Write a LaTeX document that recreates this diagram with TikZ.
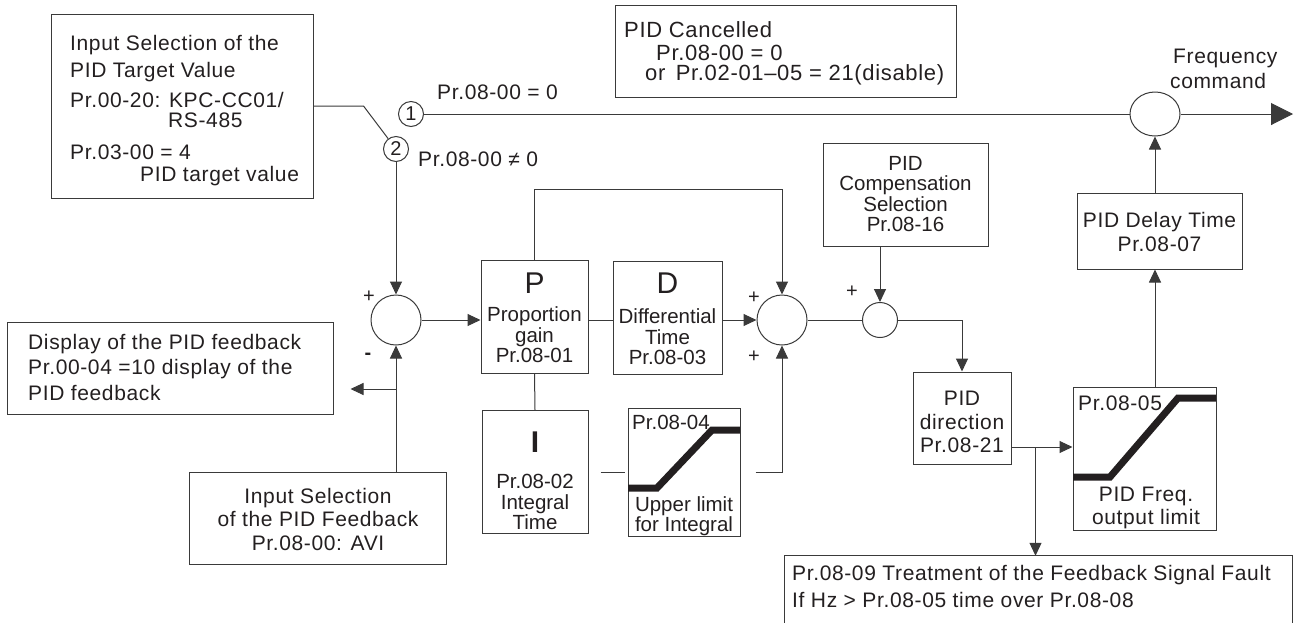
\documentclass[tikz,border=0pt]{standalone}
\usepackage{fontspec}
\setmainfont{Liberation Sans}
\newfontfamily\spaced[LetterSpace=3]{Liberation Sans}
\usetikzlibrary{arrows.meta,shapes.geometric}
\definecolor{ln}{HTML}{3A3A3A}
\definecolor{tx}{HTML}{231F20}
\begin{document}
\begin{tikzpicture}[x=1pt,y=-1pt,
  box/.style={draw=ln,line width=1pt,inner sep=0pt,rectangle},
  ta/.style={inner sep=0pt,text=tx,font=\spaced\fontsize{21}{23.5}\selectfont},
  tc/.style={inner sep=0pt,text=tx,font=\spaced\fontsize{22}{23}\selectfont},
  tb/.style={inner sep=0pt,text=tx,font=\fontsize{20.5}{20.5}\selectfont,align=center},
  big/.style={inner sep=0pt,text=tx,font=\fontsize{30}{30}\selectfont},
  sumnode/.style={draw=ln,line width=1pt,circle,inner sep=0pt,minimum size=50pt},
  numc/.style={draw=ln,line width=1pt,circle,inner sep=0pt,minimum size=25pt,text=tx,font=\fontsize{20}{20}\selectfont},
  con/.style={draw=ln,line width=1pt},
  arr/.style={con,-{Triangle[length=13pt,width=12pt]}},
  bigarr/.style={con,-{Triangle[length=22pt,width=22pt]}},
  ramp/.style={draw=tx,line width=7pt},
  sign/.style={inner sep=0pt,text=tx,font=\fontsize{20}{20}\selectfont}
]
\useasboundingbox (0,0) rectangle (1299,622);

% ---------- target value box
\node[box,minimum width=262pt,minimum height=184pt] (tgt) at (182,106) {};
\node[ta,anchor=west] (tgt1) at (70,45) {Input Selection of the};
\node[ta,anchor=west] (tgt2) at (70,72) {PID Target Value};
\node[ta,anchor=west] (tgt3) at (70,100) {Pr.00-20: KPC-CC01/};
\node[ta,anchor=west] (tgt4) at (168,120) {RS-485};
\node[ta,anchor=west] (tgt5) at (70,152) {Pr.03-00 = 4};
\node[ta,anchor=west] (tgt6) at (140,176) {PID target value};

% ---------- switch
\node[numc] (c1) at (411,114) {1};
\node[numc] (c2) at (396,149) {2};
\node[ta,anchor=west] (l1) at (437,92) {Pr.08-00 = 0};
\node[ta,anchor=west] (l2) at (418,159) {Pr.08-00 ≠ 0};

% ---------- PID cancelled
\node[box,minimum width=341pt,minimum height=92pt] (pc) at (785.5,51) {};
\node[tc,anchor=west] (pc1) at (624,30) {PID Cancelled};
\node[tc,anchor=west] (pc2) at (656,53) {Pr.08-00 = 0};
\node[tc,anchor=west] (pc3) at (645,75) {or\, Pr.02-01–05 = 21(disable)};

% ---------- output summing point
\node[draw=ln,line width=1pt,ellipse,inner sep=0pt,minimum width=50pt,minimum height=44pt] (s3) at (1155,114) {};
\node[ta,anchor=west] (fq1) at (1173,58) {Frequency};
\node[ta,anchor=west] (fq2) at (1170,81) {command};
\coordinate (out) at (1293,114);

% ---------- main loop
\node[sumnode] (s1) at (396,320) {};
\node[sign] (s1p) at (369,297) {+};
\node[sign] (s1m) at (368,356) {\textbf{-}};

\node[box,minimum width=107pt,minimum height=113pt] (P) at (534.5,316.5) {};
\node[big] (Pl) at (534.5,283) {P};
\node[tb] (Pt) at (534.5,335) {Proportion\\gain\\Pr.08-01};

\node[box,minimum width=109pt,minimum height=113pt] (D) at (667.5,317.5) {};
\node[big] (Dl) at (667.5,283) {D};
\node[tb] (Dt) at (667.5,337) {Differential\\Time\\Pr.08-03};

\node[sumnode] (s2) at (782,320) {};
\node[sign] (s2p) at (754,298) {+};
\node[sign] (s2q) at (754,357) {+};
\coordinate (top) at (782,189);

\node[box,minimum width=106pt,minimum height=123pt] (I) at (535,472) {};
\node[big] (Il) at (535,442) {\textbf{I}};
\node[tb] (It) at (535,502) {Pr.08-02\\Integral\\Time};

\node[box,minimum width=112pt,minimum height=128pt] (L1) at (684,472) {};
\node[tb,anchor=west] (L1a) at (632,422) {Pr.08-04};
\draw[ramp] (628,488) -- (657,488) -- (712,430) -- (740,430);
\node[tb] (L1t) at (684,516) {Upper limit\\for Integral};

% ---------- compensation
\node[box,minimum width=165pt,minimum height=103pt] (C) at (905.5,194.5) {};
\node[tb] (Ct) at (905.5,194) {PID\\Compensation\\Selection\\Pr.08-16};
\node[draw=ln,line width=1pt,circle,inner sep=0pt,minimum size=35pt] (sc) at (880,320) {};
\node[sign] (scp) at (852,292) {+};

\node[box,minimum width=98pt,minimum height=92pt] (Dr) at (962,418) {};
\node[ta,align=center] (Drt) at (962,422) {PID\\direction\\Pr.08-21};

\node[box,minimum width=143pt,minimum height=143pt] (L2) at (1144.5,458.5) {};
\node[ta,anchor=west] (L2a) at (1078,403) {Pr.08-05};
\draw[ramp] (1073,477) -- (1110,477) -- (1178,398) -- (1216,398);
\node[ta,align=center] (L2t) at (1146,508) {PID Freq.\\output limit};

\node[box,minimum width=165pt,minimum height=76pt] (Dly) at (1159.5,231) {};
\node[ta,align=center] (Dlyt) at (1159.5,232) {PID Delay Time\\Pr.08-07};

% ---------- feedback side
\node[box,minimum width=326pt,minimum height=92pt] (disp) at (170,368) {};
\node[ta,anchor=west] (disp1) at (28,344) {Display of the PID feedback};
\node[ta,anchor=west] (disp2) at (28,369) {Pr.00-04 =10 display of the};
\node[ta,anchor=west] (disp3) at (28,393) {PID feedback};

\node[box,minimum width=257pt,minimum height=92pt] (fb) at (317.5,518) {};
\node[ta,align=center] (fbt) at (318,519) {Input Selection\\of the PID Feedback\\Pr.08-00: AVI};

% ---------- fault box (open at the bottom edge of the picture)
\node[minimum width=507pt,minimum height=80pt,inner sep=0pt] (flt) at (1038.5,596) {};
\draw[con] (flt.south west) -- (flt.north west) -- (flt.north east) -- (flt.south east);
\node[ta,anchor=west] (flt1) at (792,575) {Pr.08-09 Treatment of the Feedback Signal Fault};
\node[ta,anchor=west] (flt2) at (792,600) {If Hz > Pr.08-05 time over Pr.08-08};

% ---------- connectors
\draw[con] (tgt.east) -- ++(50,0) -- (c2);
\draw[con] (c1.east) -- (s3.west);
\draw[bigarr] (s3.east) -- (out);
\draw[arr] (c2.south) -- (s1.north);
\draw[arr] (s1.east) -- (s1.east -| P.west);
\draw[con] (P.east |- s2) -- (D.west |- s2);
\draw[arr] (D.east |- s2) -- (s2.west);
\draw[arr] (P.north) |- (top) -- (s2.north);
\draw[con] (P.south) -- (I.north);
\draw[con] ([xshift=12pt]I.east) -- ([xshift=-3pt]L1.west);
\draw[arr] ([xshift=15pt]L1.east) -| (s2.south);
\draw[con] (s2.east) -- (sc.west);
\draw[arr] (C.south -| sc) -- (sc.north);
\draw[arr] (sc.east) -| (Dr.north);
\draw[arr] ([yshift=-29pt]Dr.east) coordinate (de) -- (de -| L2.west);
\coordinate (br) at ([xshift=24pt]de);
\draw[arr] (br) -- (br |- flt.north);
\draw[arr] (L2.north -| s3) -- (Dly.south -| s3);
\draw[arr] (Dly.north -| s3) -- (s3.south);
\draw[arr] (fb.north -| s1) -- (s1.south);
\coordinate (fj) at (396,389);
\draw[arr] (fj) -- ([xshift=17pt]disp.east |- fj);
\end{tikzpicture}
\end{document}
